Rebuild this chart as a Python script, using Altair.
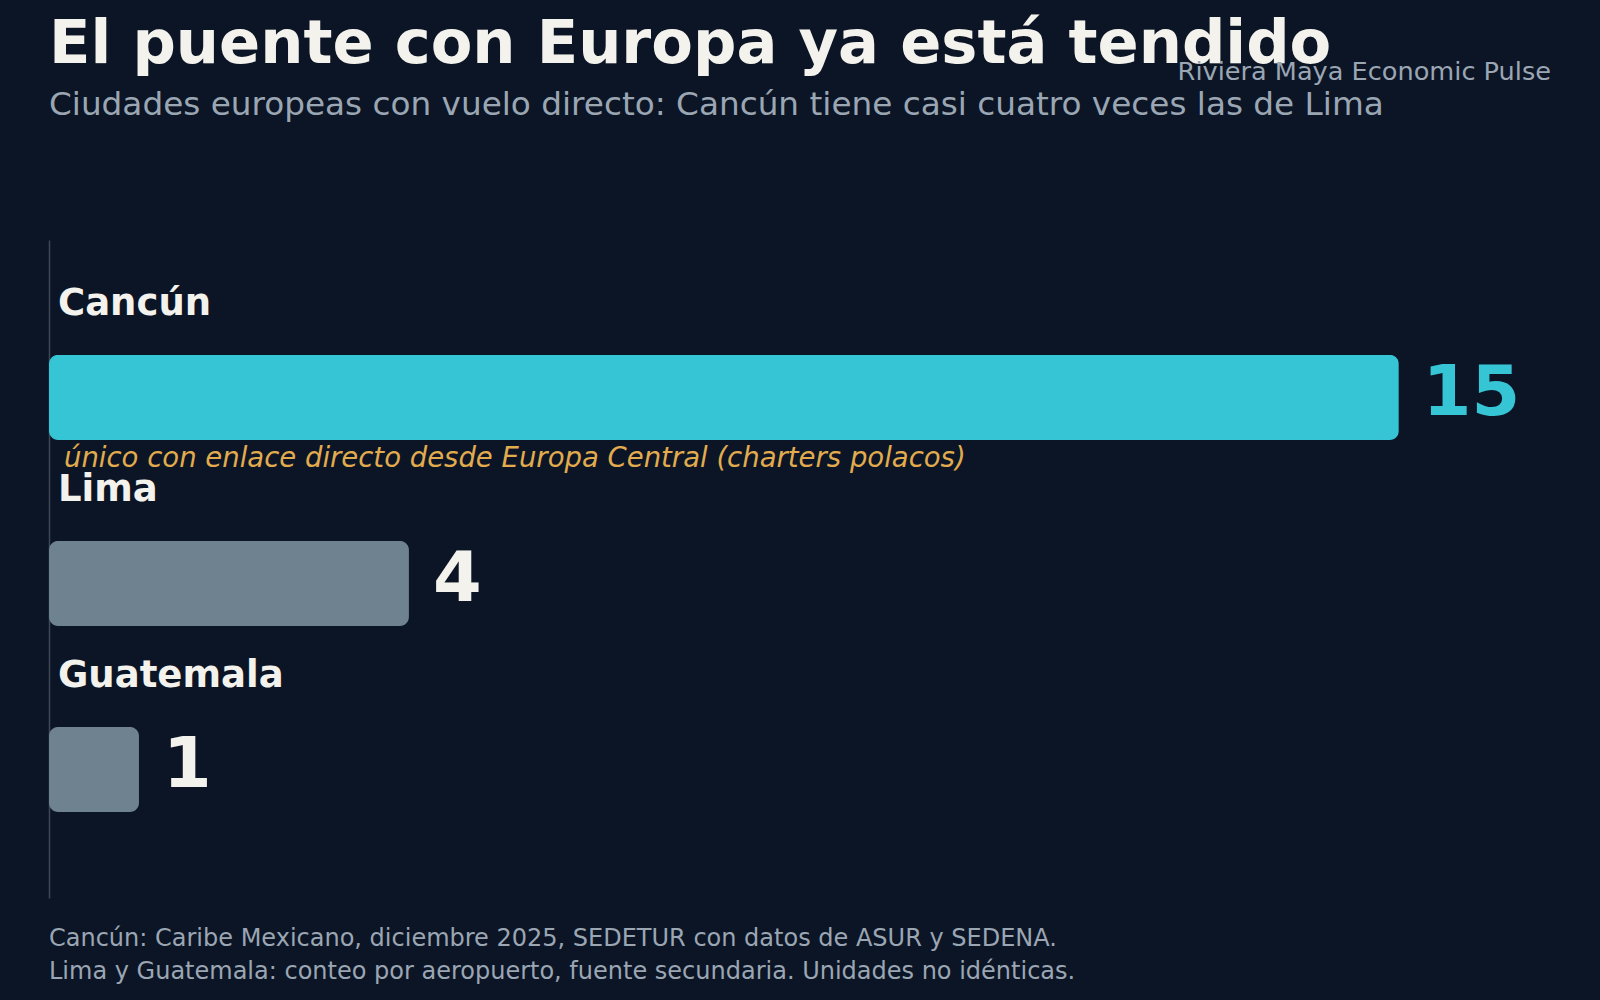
import altair as alt
import pandas as pd

cities = ["Cancún", "Lima", "Guatemala"]
values = [15, 4, 1]
note_city = ["Cancún"]
note_text = ["único con enlace directo desde Europa Central (charters polacos)"]

title_text = "El puente con Europa ya está tendido"
subtitle_text = "Ciudades europeas con vuelo directo: Cancún tiene casi cuatro veces las de Lima"
brand_text = "Riviera Maya Economic Pulse"
footer_lines = [
    "Cancún: Caribe Mexicano, diciembre 2025, SEDETUR con datos de ASUR y SEDENA.",
    "Lima y Guatemala: conteo por aeropuerto, fuente secundaria. Unidades no idénticas.",
]

BG = "#0b1526"
CYAN = "#36c5d5"
SLATE = "#6f8290"
WHITE = "#f4f2ec"
MUTED = "#9ba6b3"
GOLD = "#e2ac4e"
FONT = "DejaVu Sans"

W, H = 1528, 658

df = pd.DataFrame({"city": cities, "value": values})
notes = pd.DataFrame({"city": note_city, "note": note_text})

yscale = alt.Scale(domain=cities, paddingInner=0.543, paddingOuter=0.54, align=0.572)
xscale = alt.Scale(domain=[0, 16.98])

is_cancun = "datum.city == 'Cancún'"

base = alt.Chart(df)

bars = base.mark_bar(cornerRadius=9).encode(
    y=alt.Y("city:N", sort=cities, scale=yscale,
            axis=alt.Axis(labels=False, ticks=False, title=None, grid=False,
                          domainColor="#3d4757", domainWidth=1.5)),
    x=alt.X("value:Q", scale=xscale, axis=None),
    color=alt.condition(is_cancun, alt.value(CYAN), alt.value(SLATE)),
)

vals = base.mark_text(align="left", baseline="alphabetic", dx=24, dy=18,
                      font=FONT, fontWeight="bold", fontSize=70).encode(
    y=alt.Y("city:N", sort=cities, scale=yscale),
    x=alt.X("value:Q", scale=xscale),
    text=alt.Text("value:Q"),
    color=alt.condition(is_cancun, alt.value(CYAN), alt.value(WHITE)),
)

cat_labels = base.mark_text(align="left", baseline="alphabetic", dy=-82,
                            font=FONT, fontWeight="bold", fontSize=37, color=WHITE).encode(
    y=alt.Y("city:N", sort=cities, scale=yscale),
    x=alt.value(9),
    text="city:N",
)

note = alt.Chart(notes).mark_text(align="left", baseline="alphabetic", dy=70,
                                  font=FONT, fontStyle="italic", fontSize=27.5, color=GOLD).encode(
    y=alt.Y("city:N", sort=cities, scale=yscale),
    x=alt.value(15),
    text="note:N",
)

def fixed_text(txt, x, y, size, color, weight="normal", align="left"):
    return alt.Chart(pd.DataFrame({"t": [txt]})).mark_text(
        align=align, baseline="alphabetic", font=FONT, fontSize=size,
        fontWeight=weight, color=color,
    ).encode(x=alt.value(x), y=alt.value(y), text="t:N")

top = 240
title = fixed_text(title_text, 0, 63 - top, 60.7, WHITE, weight="bold")
subtitle = fixed_text(subtitle_text, 0, 115 - top, 32.7, MUTED)
brand = fixed_text(brand_text, 1551 - 49, 80 - top, 25.6, MUTED, align="right")
foot1 = fixed_text(footer_lines[0], 0, 946 - top, 24, MUTED)
foot2 = fixed_text(footer_lines[1], 0, 979 - top, 24, MUTED)

chart = alt.layer(
    bars, vals, cat_labels, note, title, subtitle, brand, foot1, foot2
).properties(
    width=W, height=H,
    background=BG,
    padding={"left": 49, "top": top, "right": 1600 - 49 - W, "bottom": 1000 - top - H},
    autosize=alt.AutoSizeParams(type="none"),
).configure_view(strokeWidth=0)

chart.save("out.html", embed_options={"renderer": "svg", "actions": False})
